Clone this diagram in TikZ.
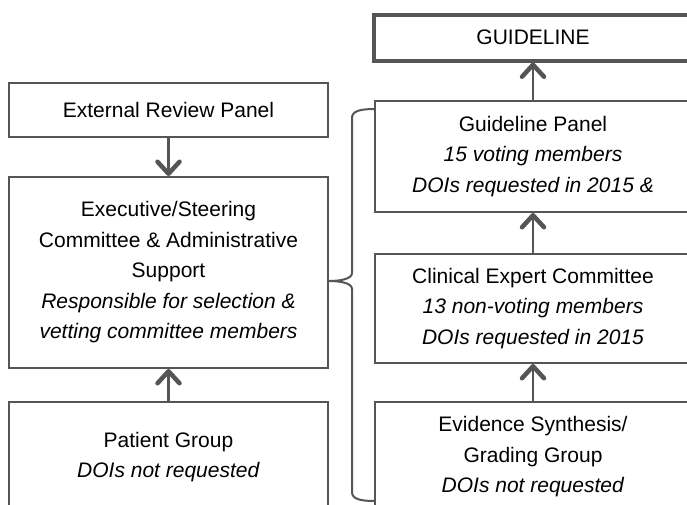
\documentclass[tikz,border=0pt]{standalone}
\usepackage{fontspec}
\setmainfont{Liberation Sans}
\usetikzlibrary{arrows.meta}
\definecolor{edge}{RGB}{85,85,85}
\tikzset{
  box/.style={draw=edge, line width=2pt, fill=white, align=center, inner sep=0pt,
    font=\fontsize{21}{30.5}\selectfont, text=black},
  bigbox/.style={box, line width=4pt},
  flow/.style={draw=edge, line width=2.2pt,
    -{Straight Barb[length=12pt,width=22pt,line width=4.5pt,round]}},
  bracestyle/.style={draw=edge, line width=2pt},
}
\begin{document}
\begin{tikzpicture}[x=1pt,y=-1pt]
\clip (0,0) rectangle (687,504);
\fill[white] (0,0) rectangle (687,504);
% left column
\node[box, minimum width=319pt, minimum height=54pt] (ext) at (168.5,110) {External Review Panel};
\node[box, minimum width=319pt, minimum height=191pt] (exec) at (168.5,272.5)
  {Executive/Steering\\Committee \& Administrative\\Support\\\textit{Responsible for selection \&}\\\textit{vetting committee members}};
\node[box, minimum width=319pt, minimum height=110pt] (pat) at (168.5,457)
  {Patient Group\\\textit{DOIs not requested}};
% right column
\node[bigbox, minimum width=318pt, minimum height=46pt] (gl) at (533,37.5) {GUIDELINE};
\node[box, minimum width=316pt, minimum height=111pt] (gp) at (533,156.5)
  {Guideline Panel\\\textit{15 voting members}\\\textit{DOIs requested in 2015 \&}};
\node[box, minimum width=316pt, minimum height=109pt] (ce) at (533,308.5)
  {Clinical Expert Committee\\\textit{13 non-voting members}\\\textit{DOIs requested in 2015}};
\node[box, minimum width=316pt, minimum height=110pt] (es) at (533,457)
  {Evidence Synthesis/\\Grading Group\\\textit{DOIs not requested}};
% arrows
\draw[flow] (ext.south) -- (exec.north);
\draw[flow] (pat.north) -- (exec.south);
\draw[flow] (gp.north) -- (gl.south);
\draw[flow] (ce.north) -- (gp.south);
\draw[flow] (es.north) -- (ce.south);
% brace
\coordinate (bt) at (375,109);
\coordinate (bb) at (375,501);
\coordinate (tip) at (exec.east |- 0,281);
\draw[bracestyle] (bt) .. controls (360,109) and (352,111) .. (352,118) -- (352,273)
  .. controls (352,279) and (340,281) .. (tip)
  .. controls (340,281) and (352,283) .. (352,289) -- (352,492)
  .. controls (352,499) and (360,501) .. (bb);
\end{tikzpicture}
\end{document}
